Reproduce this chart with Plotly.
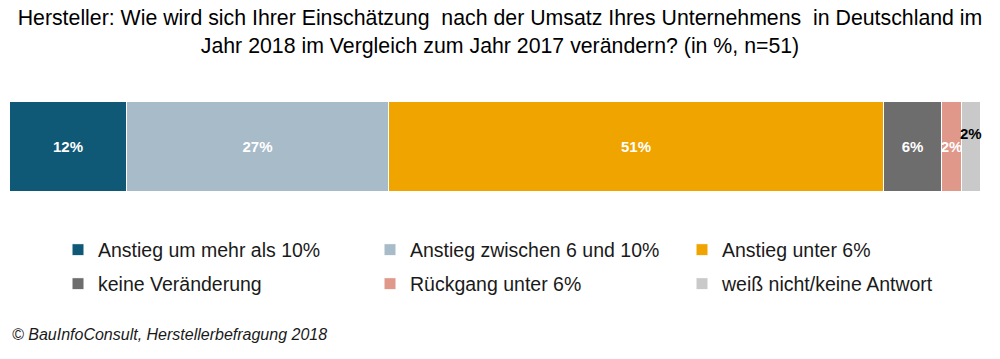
import plotly.graph_objects as go

categories = ["Anstieg um mehr als 10%", "Anstieg zwischen 6 und 10%", "Anstieg unter 6%",
              "keine Veränderung", "Rückgang unter 6%", "weiß nicht/keine Antwort"]
values = [12, 27, 51, 6, 2, 2]
colors = ["#0F5977", "#A7BBC8", "#EFA400", "#6D6D6D", "#E0988A", "#C9C9C9"]
label_colors = ["white", "white", "white", "white", "white", "black"]

title_text = ("Hersteller: Wie wird sich Ihrer Einschätzung  nach der Umsatz Ihres Unternehmens  in Deutschland im<br>"
              "Jahr 2018 im Vergleich zum Jahr 2017 verändern? (in %, n=51)")
source_text = "© BauInfoConsult, Herstellerbefragung 2018"

FONT = "Arial, Liberation Sans, sans-serif"

fig = go.Figure()
cum = 0
for i, (cat, v, c) in enumerate(zip(categories, values, colors)):
    last = i == len(categories) - 1
    fig.add_trace(go.Bar(
        x=[v], y=["Umsatz"], orientation="h", name=cat,
        marker=dict(color=c, line=dict(color="white", width=1)),
        text=[f"{v}%"] if not last else [""],
        textposition="inside", insidetextanchor="middle", constraintext="none", textangle=0,
        textfont=dict(color=label_colors[i], size=15, family=FONT, weight="bold"),
        legend="legend" if i < 3 else "legend2",
        hoverinfo="name+x",
    ))
    if last:
        fig.add_annotation(x=cum + v / 2, y=0.145, xref="x", yref="y", text=f"<b>{v}%</b>",
                           showarrow=False, font=dict(color="black", size=15, family=FONT))
    cum += v

legend_common = dict(orientation="h", xref="container", yref="container", x=0.058,
                     xanchor="left", yanchor="middle", entrywidth=267, itemwidth=30,
                     traceorder="normal",
                     font=dict(size=19.5, color="#1A1A1A", family=FONT), bgcolor="rgba(0,0,0,0)")

fig.update_layout(
    width=1000, height=359,
    barmode="stack", bargap=0,
    paper_bgcolor="white", plot_bgcolor="white",
    margin=dict(l=10, r=19, t=102, b=167, autoexpand=False),
    font=dict(family=FONT, color="#1A1A1A"),
    title=dict(text=title_text, x=0.5, xref="container", xanchor="center",
               yref="container", y=1 - 25 / 359, yanchor="middle",
               font=dict(size=21.3, color="black", family=FONT)),
    xaxis=dict(range=[0, 100], visible=False, fixedrange=True),
    yaxis=dict(visible=False, range=[-0.5, 0.5], fixedrange=True),
    legend=dict(legend_common, y=1 - 250 / 359),
    legend2=dict(legend_common, y=1 - 284 / 359),
    showlegend=True,
)
fig.add_annotation(text=f"<i>{source_text}</i>", xref="paper", yref="paper", x=0, y=-1.58,
                   xanchor="left", yanchor="middle", showarrow=False,
                   font=dict(size=16, color="#1A1A1A", family=FONT))

fig.write_html("out.html", config={"displayModeBar": False},
               post_script="document.body.style.margin='0';")
